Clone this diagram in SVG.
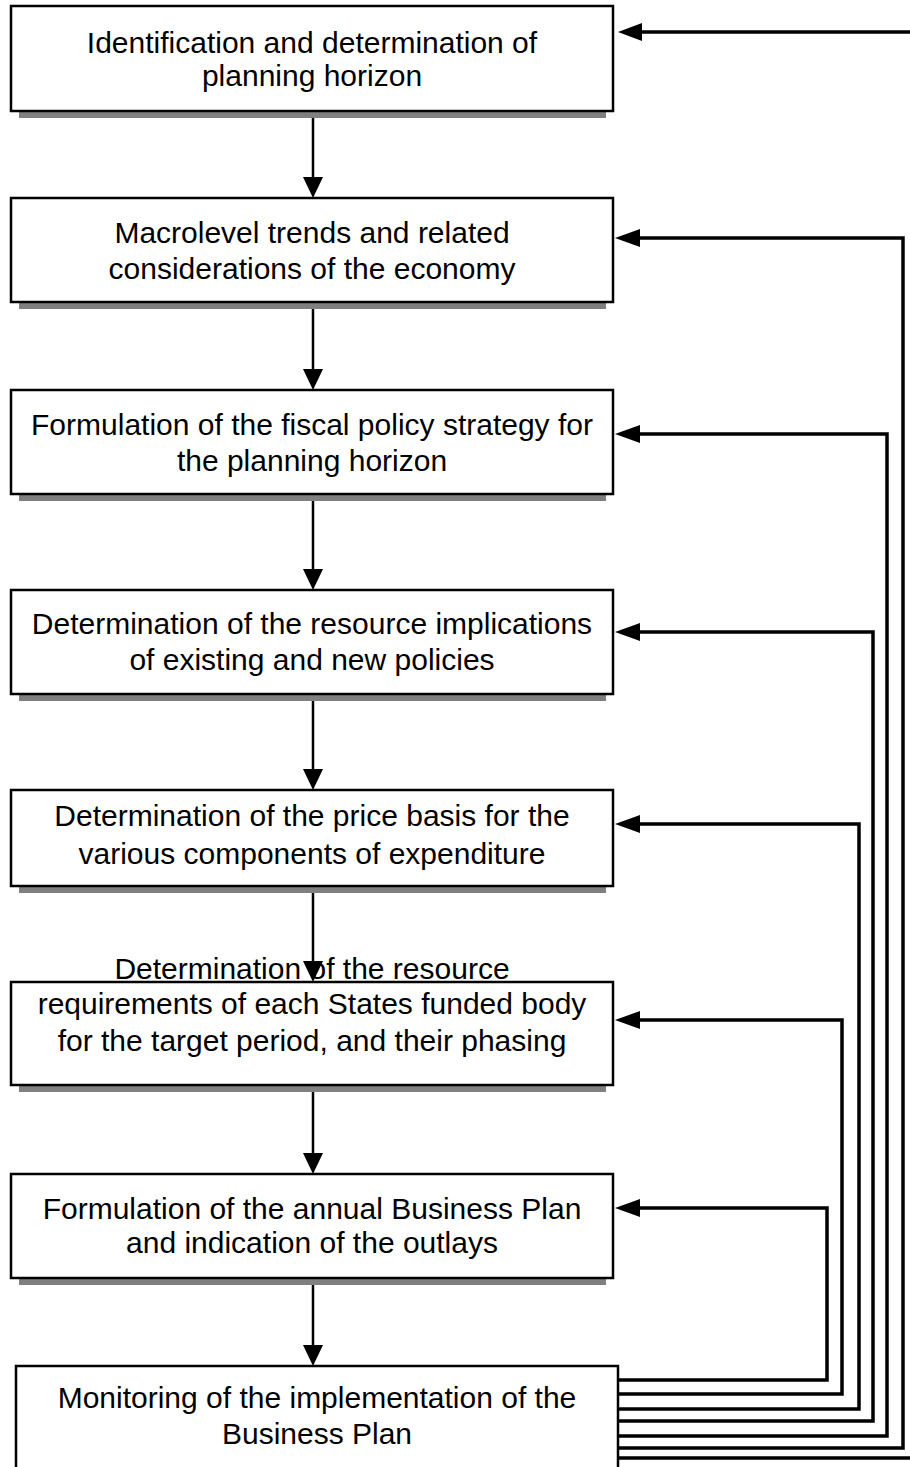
<svg xmlns="http://www.w3.org/2000/svg" width="910" height="1467" viewBox="0 0 910 1467">
<style>
.box{fill:#fff;stroke:#000;stroke-width:2.5}
.sh{fill:#808080}
.t{font-family:"Liberation Sans",Arial,sans-serif;font-size:30px;fill:#000;text-anchor:middle}
.dn{stroke:#000;stroke-width:2.5;fill:none}
.fb{stroke:#000;stroke-width:3.5;fill:none}
.ah{fill:#000}
</style>
<rect width="910" height="1467" fill="#fff"/>
<g id="connectors">
<g id="down">
<line class="dn" x1="313" y1="111" x2="313" y2="178"/><polygon class="ah" points="303,177 323,177 313,198"/>
<line class="dn" x1="313" y1="302" x2="313" y2="370"/><polygon class="ah" points="303,369 323,369 313,390"/>
<line class="dn" x1="313" y1="494" x2="313" y2="570"/><polygon class="ah" points="303,569 323,569 313,590"/>
<line class="dn" x1="313" y1="694" x2="313" y2="770"/><polygon class="ah" points="303,769 323,769 313,790"/>
<line class="dn" x1="313" y1="886" x2="313" y2="962"/><polygon class="ah" points="303,961 323,961 313,982"/>
<line class="dn" x1="313" y1="1085" x2="313" y2="1154"/><polygon class="ah" points="303,1153 323,1153 313,1174"/>
<line class="dn" x1="313" y1="1278" x2="313" y2="1346"/><polygon class="ah" points="303,1345 323,1345 313,1366"/>
</g>
<g id="feedback">
<polyline class="fb" points="618,1458 914,1458 914,32 638,32"/><polygon class="ah" points="618,32 642,23 642,41"/>
<polyline class="fb" points="618,1448 903,1448 903,238 636,238"/><polygon class="ah" points="615,238 640,229 640,247"/>
<polyline class="fb" points="618,1436 887,1436 887,434 636,434"/><polygon class="ah" points="615,434 640,425 640,443"/>
<polyline class="fb" points="618,1421 873,1421 873,632 636,632"/><polygon class="ah" points="615,632 640,623 640,641"/>
<polyline class="fb" points="618,1409 859,1409 859,824 636,824"/><polygon class="ah" points="615,824 640,815 640,833"/>
<polyline class="fb" points="618,1394 842,1394 842,1020 636,1020"/><polygon class="ah" points="615,1020 640,1011 640,1029"/>
<polyline class="fb" points="618,1380 827,1380 827,1208 636,1208"/><polygon class="ah" points="615,1208 640,1199 640,1217"/>
</g>
</g>
<g id="n1">
<rect class="sh" x="19" y="112" width="587" height="6"/>
<rect class="box" x="11" y="6" width="602" height="105"/>
<text class="t" x="312" y="53">Identification and determination of</text>
<text class="t" x="312" y="86">planning horizon</text>
</g>
<g id="n2">
<rect class="sh" x="19" y="303" width="587" height="6"/>
<rect class="box" x="11" y="198" width="602" height="104"/>
<text class="t" x="312" y="243">Macrolevel trends and related</text>
<text class="t" x="312" y="279">considerations of the economy</text>
</g>
<g id="n3">
<rect class="sh" x="19" y="495" width="587" height="6"/>
<rect class="box" x="11" y="390" width="602" height="104"/>
<text class="t" x="312" y="435">Formulation of the fiscal policy strategy for</text>
<text class="t" x="312" y="471">the planning horizon</text>
</g>
<g id="n4">
<rect class="sh" x="19" y="695" width="587" height="6"/>
<rect class="box" x="11" y="590" width="602" height="104"/>
<text class="t" x="312" y="634">Determination of the resource implications</text>
<text class="t" x="312" y="670">of existing and new policies</text>
</g>
<g id="n5">
<rect class="sh" x="19" y="887" width="587" height="6"/>
<rect class="box" x="11" y="790" width="602" height="96"/>
<text class="t" x="312" y="826">Determination of the price basis for the</text>
<text class="t" x="312" y="864">various components of expenditure</text>
</g>
<g id="n6">
<rect class="sh" x="19" y="1086" width="587" height="6"/>
<rect class="box" x="11" y="982" width="602" height="103"/>
<text class="t" x="312" y="979">Determination of the resource</text>
<text class="t" x="312" y="1014">requirements of each States funded body</text>
<text class="t" x="312" y="1051">for the target period, and their phasing</text>
</g>
<g id="n7">
<rect class="sh" x="19" y="1279" width="587" height="6"/>
<rect class="box" x="11" y="1174" width="602" height="104"/>
<text class="t" x="312" y="1219">Formulation of the annual Business Plan</text>
<text class="t" x="312" y="1253">and indication of the outlays</text>
</g>
<g id="n8">
<rect class="box" x="16" y="1366" width="602" height="120"/>
<text class="t" x="317" y="1408">Monitoring of the implementation of the</text>
<text class="t" x="317" y="1444">Business Plan</text>
</g>
</svg>
